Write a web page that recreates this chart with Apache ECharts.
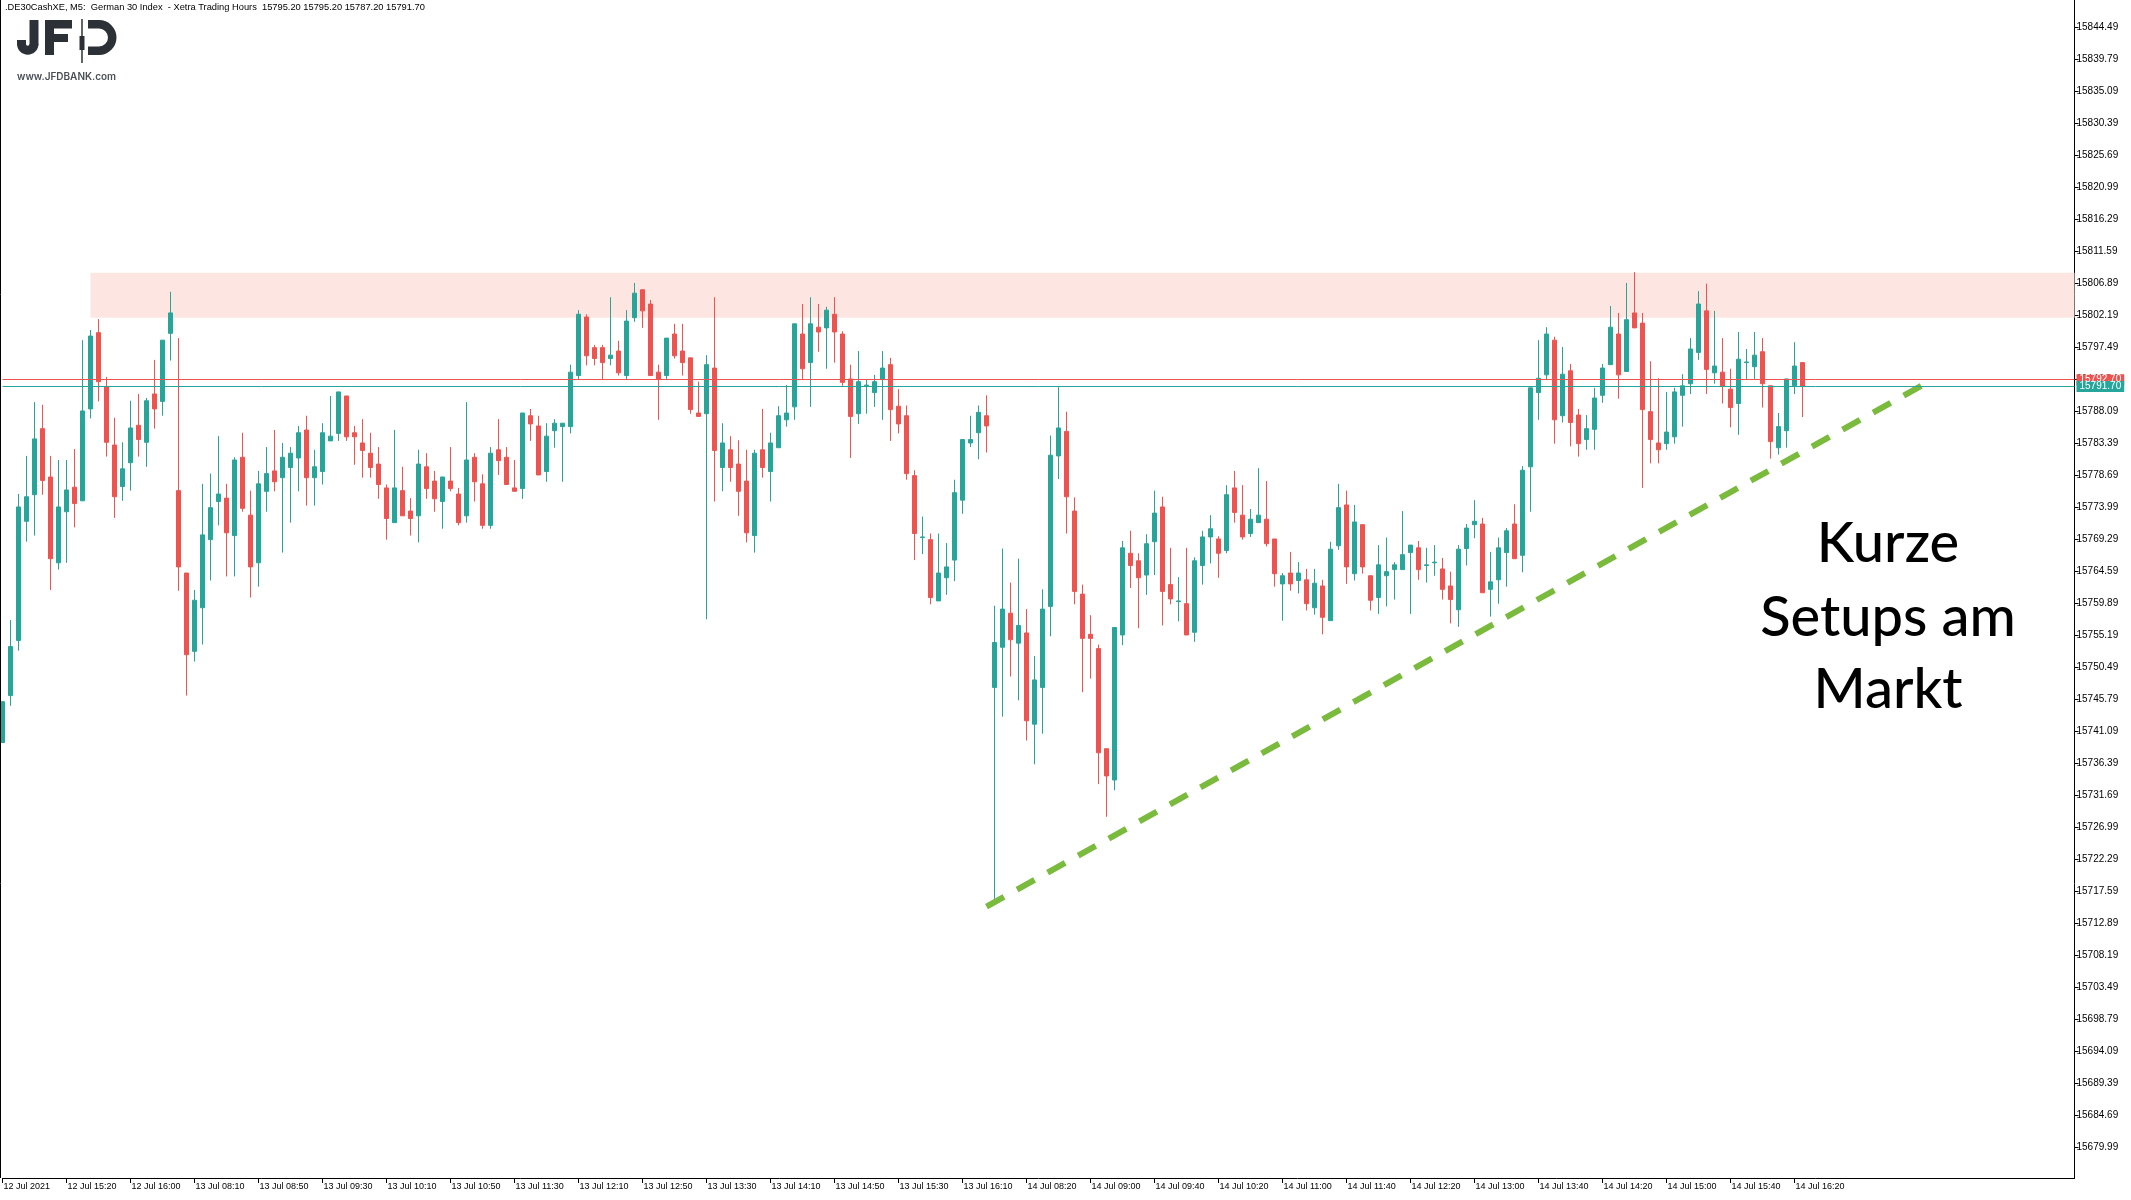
<!DOCTYPE html>
<html><head><meta charset="utf-8">
<script src="https://cdn.jsdelivr.net/npm/echarts@6/dist/echarts.min.js"></script>
<style>html,body{margin:0;padding:0;background:#fff;}#c{width:2131px;height:1200px;}</style>
</head><body><div id="c"></div>
<script>
// ---- DATA (M5 candles, 12 Jul 14:40 -> 14 Jul 16:25) ----
const opens = [15739.4,15746.3,15754.4,15771.9,15775.8,15785.5,15778.4,15765.8,15773.3,15776.9,15774.9,15788.4,15799.6,15791.7,15783.1,15777.0,15780.5,15786.0,15783.5,15790.6,15789.5,15799.5,
15776.4,15764.3,15752.8,15759.2,15769.2,15774.8,15775.3,15769.8,15781.3,15772.8,15765.8,15776.3,15779.3,15778.3,15779.8,15781.2,15785.3,15778.3,15779.2,15783.7,15784.8,15790.3,15784.9,15783.4,15781.9,15780.3,15776.8,15771.7,15776.4,15773.4,15772.7,15779.9,15777.8,15774.8,15777.8,15775.9,15772.7,15781.3,15777.4,15771.3,15782.4,15781.3,15776.8,15776.7,15787.4,15785.9,15779.2,15785.2,15785.8,15785.8,15793.3,15801.9,15797.4,15797.4,15795.8,15796.9,15793.3,15801.8,15805.9,15803.8,15793.8,15793.3,15799.4,15796.9,15795.9,15787.8,15787.7,15794.4,15779.8,15782.4,15780.3,15777.8,15769.8,15782.4,15779.2,15782.7,15786.8,15788.7,15799.4,15795.2,15800.4,15800.3,15802.3,15799.4,15792.8,15787.7,15791.8,15790.8,15792.8,15794.9,15788.8,15787.4,15778.6,15769.5,15769.2,15760.2,15763.6,15766.2,15775.0,15783.4,15784.9,15787.4,
15747.5,15753.4,15758.4,15754.0,15755.5,15742.1,15747.5,15759.4,15781.5,15785.1,15773.4,15761.2,15755.3,15753.2,15738.5,15733.9,15755.2,15767.2,15766.1,15764.0,15768.9,15774.0,15762.6,15760.1,15759.8,15755.6,15765.4,15769.6,15769.3,15767.6,15776.8,15772.8,15770.1,15771.7,15772.2,15769.3,15762.7,15764.3,15763.2,15763.3,15759.2,15762.4,15757.3,15768.3,15774.3,15764.2,15771.4,15763.9,15760.7,15763.9,15764.8,15764.8,15767.3,15768.0,15765.4,15765.8,15764.9,15762.4,15758.9,15767.9,15771.4,15771.5,15761.9,15763.3,15767.3,15771.5,15766.9,15779.9,15790.8,15793.4,15798.5,15787.4,15794.0,15787.5,15783.9,15785.4,15790.4,15794.9,15799.4,15793.9,15802.5,15801.0,15788.0,15783.4,15783.3,15784.3,15790.4,15792.1,15796.7,15802.8,15793.7,15793.8,15791.3,15789.2,15795.2,15794.6,15796.8,15791.8,15782.7,15785.2,15791.8,15795.2];
const closes = [15745.4,15753.5,15774.0,15775.5,15784.0,15777.9,15766.4,15774.0,15776.5,15774.5,15788.1,15799.1,15792.4,15783.5,15775.5,15779.6,15785.6,15783.9,15789.6,15788.4,15798.5,15802.5,
15765.2,15752.3,15760.3,15769.9,15773.9,15775.9,15770.2,15780.9,15773.8,15765.2,15777.4,15778.9,15777.7,15781.3,15781.9,15784.9,15778.3,15779.9,15784.9,15784.4,15790.9,15784.3,15784.3,15782.3,15779.8,15777.3,15772.3,15776.8,15772.7,15772.3,15780.3,15776.7,15775.2,15778.4,15776.7,15771.7,15780.9,15777.7,15771.3,15781.9,15780.8,15777.3,15776.3,15787.8,15786.2,15778.7,15784.4,15786.3,15786.3,15793.8,15802.3,15796.2,15795.8,15795.2,15796.3,15793.7,15801.3,15805.4,15802.8,15793.3,15792.8,15798.8,15796.2,15795.2,15788.3,15787.3,15794.9,15782.3,15783.4,15779.8,15776.3,15770.2,15781.9,15779.8,15783.4,15787.4,15787.8,15800.9,15794.3,15800.9,15799.7,15802.9,15799.7,15792.3,15787.3,15792.4,15791.9,15792.4,15794.4,15788.3,15786.2,15778.9,15770.1,15769.6,15760.7,15764.3,15765.2,15776.1,15783.9,15783.9,15787.9,15785.9,
15754.1,15759.0,15754.5,15756.6,15742.6,15748.6,15759.0,15781.6,15785.6,15775.5,15761.6,15754.7,15754.7,15737.9,15734.5,15756.3,15768.0,15765.4,15763.6,15768.6,15773.1,15761.6,15760.5,15760.2,15755.2,15766.1,15769.6,15770.8,15767.2,15775.8,15773.2,15769.6,15772.2,15772.8,15768.6,15764.2,15763.9,15762.7,15764.3,15759.8,15762.8,15757.8,15767.8,15773.9,15765.2,15771.8,15765.2,15760.3,15765.5,15764.5,15765.5,15767.0,15768.4,15764.8,15765.5,15765.9,15761.9,15760.4,15767.8,15770.9,15771.9,15761.4,15763.0,15768.0,15770.5,15766.4,15779.4,15791.5,15792.9,15799.4,15786.8,15793.5,15786.4,15783.3,15785.5,15790.0,15794.4,15800.4,15793.4,15801.5,15800.3,15788.3,15783.9,15782.4,15785.0,15790.9,15791.8,15797.2,15803.8,15794.2,15794.7,15791.7,15788.6,15795.7,15795.3,15796.3,15792.1,15783.6,15785.8,15792.8,15794.7,15791.7];
const lows = [15739.4,15744.8,15752.9,15768.9,15769.8,15775.8,15761.8,15764.8,15765.8,15771.0,15774.9,15787.0,15789.5,15781.4,15772.4,15774.9,15776.4,15781.4,15779.9,15785.5,15787.4,15795.5,
15761.7,15746.3,15751.3,15753.8,15763.2,15771.3,15763.8,15763.8,15773.3,15760.7,15762.3,15773.3,15776.3,15767.3,15771.7,15776.3,15774.2,15774.2,15777.3,15783.7,15783.7,15783.7,15780.2,15778.3,15778.3,15775.2,15769.2,15771.7,15772.7,15769.8,15768.8,15775.2,15773.3,15770.8,15776.3,15771.3,15771.7,15774.8,15770.8,15770.8,15778.7,15777.3,15776.3,15775.2,15783.7,15778.7,15777.7,15782.7,15777.7,15784.8,15792.8,15794.8,15794.8,15792.8,15794.8,15793.3,15792.8,15801.2,15800.3,15793.3,15786.8,15792.8,15795.8,15793.3,15787.7,15787.3,15757.5,15774.8,15776.3,15777.7,15772.7,15768.8,15767.3,15778.3,15774.8,15782.7,15785.8,15786.8,15792.8,15788.7,15796.8,15794.3,15795.2,15791.8,15781.2,15786.2,15787.7,15788.7,15786.8,15783.7,15784.8,15778.0,15766.2,15767.1,15759.7,15760.2,15761.1,15763.1,15773.0,15782.8,15781.0,15782.0,
15716.3,15743.2,15749.1,15745.6,15739.7,15736.2,15740.7,15755.0,15778.1,15770.1,15759.7,15746.8,15748.8,15733.3,15728.5,15732.4,15753.7,15762.1,15756.2,15761.1,15764.0,15756.6,15759.7,15757.2,15755.2,15754.2,15762.6,15765.7,15763.6,15767.2,15771.7,15769.2,15769.6,15771.7,15768.2,15762.3,15757.3,15761.7,15761.3,15758.8,15758.2,15755.3,15757.3,15767.7,15762.7,15763.2,15764.2,15758.8,15758.3,15759.4,15760.4,15764.8,15758.3,15763.3,15762.9,15763.9,15760.4,15756.9,15756.4,15765.4,15769.4,15761.4,15757.9,15759.8,15762.3,15766.4,15764.4,15773.3,15786.8,15792.7,15783.3,15786.4,15782.9,15781.4,15782.4,15782.4,15789.3,15794.9,15789.9,15793.9,15800.3,15776.8,15780.4,15780.4,15782.4,15783.3,15785.8,15790.6,15795.6,15790.6,15792.1,15789.2,15785.7,15784.6,15792.8,15792.8,15788.6,15781.1,15781.7,15782.7,15790.6,15787.2];
const highs = [15745.4,15757.4,15775.9,15781.5,15789.4,15789.0,15781.5,15780.9,15780.9,15782.5,15798.5,15800.0,15801.6,15793.1,15787.1,15783.5,15789.6,15790.6,15790.0,15795.6,15798.5,15805.6,
15798.8,15764.3,15761.8,15777.4,15778.9,15784.4,15777.4,15781.3,15784.9,15776.4,15779.3,15782.8,15785.3,15783.4,15782.8,15785.9,15787.4,15782.4,15786.3,15790.3,15790.9,15790.3,15785.9,15786.9,15784.9,15782.8,15777.3,15785.3,15779.9,15775.3,15782.4,15781.9,15779.3,15778.4,15782.8,15776.8,15789.4,15781.9,15778.8,15782.8,15786.9,15782.8,15780.9,15787.8,15788.4,15787.4,15786.3,15786.9,15786.3,15794.9,15802.9,15802.3,15797.8,15797.8,15804.8,15798.4,15802.9,15806.9,15805.9,15804.4,15794.9,15798.8,15800.9,15800.9,15795.9,15792.4,15796.3,15804.8,15786.3,15784.4,15783.8,15782.4,15782.4,15788.4,15784.9,15788.8,15791.9,15800.9,15803.8,15804.8,15803.8,15803.4,15804.8,15799.8,15794.9,15796.9,15792.8,15793.4,15796.9,15795.9,15791.3,15788.9,15779.4,15772.6,15770.1,15770.1,15768.7,15778.0,15783.9,15787.4,15788.9,15790.4,
15759.5,15767.9,15762.9,15766.4,15759.0,15752.1,15761.9,15784.5,15791.6,15788.0,15775.4,15762.6,15758.1,15753.8,15738.5,15756.3,15769.0,15770.5,15767.2,15770.0,15776.4,15775.5,15768.0,15763.7,15768.0,15766.6,15770.5,15772.8,15769.7,15777.2,15779.3,15777.2,15773.7,15779.7,15777.8,15769.3,15764.3,15767.4,15765.9,15764.9,15764.9,15763.3,15768.9,15777.4,15776.4,15774.3,15771.4,15763.9,15768.4,15769.5,15765.9,15773.4,15768.4,15769.0,15768.0,15768.4,15766.5,15764.5,15768.4,15771.5,15775.0,15772.4,15767.4,15769.5,15770.9,15774.4,15780.0,15791.5,15798.5,15800.4,15799.0,15797.5,15795.0,15788.4,15787.5,15791.5,15795.0,15803.5,15802.5,15806.9,15808.5,15802.5,15795.4,15792.9,15790.9,15791.5,15793.5,15798.8,15805.7,15806.8,15802.8,15798.8,15794.3,15799.7,15797.2,15799.7,15798.8,15791.8,15787.8,15792.8,15798.2,15795.2];

const sessions = [['12 Jul', 14*60+40, 16*60+25], ['13 Jul', 8*60, 16*60+25], ['14 Jul', 8*60, 16*60+25]];
const xTickLabels = ['12 Jul 2021','12 Jul 15:20','12 Jul 16:00','13 Jul 08:10','13 Jul 08:50','13 Jul 09:30','13 Jul 10:10','13 Jul 10:50','13 Jul 11:30','13 Jul 12:10','13 Jul 12:50','13 Jul 13:30','13 Jul 14:10','13 Jul 14:50','13 Jul 15:30','13 Jul 16:10','14 Jul 08:20','14 Jul 09:00','14 Jul 09:40','14 Jul 10:20','14 Jul 11:00','14 Jul 11:40','14 Jul 12:20','14 Jul 13:00','14 Jul 13:40','14 Jul 14:20','14 Jul 15:00','14 Jul 15:40','14 Jul 16:20'];
const yTickValues = [15679.99,15684.69,15689.39,15694.09,15698.79,15703.49,15708.19,15712.89,15717.59,15722.29,15726.99,15731.69,15736.39,15741.09,15745.79,15750.49,15755.19,15759.89,15764.59,15769.29,15773.99,15778.69,15783.39,15788.09,15792.79,15797.49,15802.19,15806.89,15811.59,15816.29,15820.99,15825.69,15830.39,15835.09,15839.79,15844.49];
const resistanceZone = [15801.8, 15808.4];   // price band
const zoneStartBar = 11;
const trendLine = [[123, 15715.3], [240, 15791.9]]; // [bar index, price]
const askPrice = 15792.70;
const bidPrice = 15791.70;
const headerText = '.DE30CashXE, M5:  German 30 Index  - Xetra Trading Hours  15795.20 15795.20 15787.20 15791.70';
const noteLines = ['Kurze', 'Setups am', 'Markt'];

// ---- build categories ----
const categories = [];
sessions.forEach(([d, s, e]) => {
  for (let m = s; m <= e; m += 5) {
    const hh = String(Math.floor(m / 60)).padStart(2, '0'), mm = String(m % 60).padStart(2, '0');
    categories.push(d + ' ' + hh + ':' + mm);
  }
});
const TOTAL = 260;
while (categories.length < TOTAL) categories.push('future ' + categories.length);
const candles = opens.map((o, i) => [o, closes[i], lows[i], highs[i]]);

const GREEN = '#26a69a', RED = '#ef5350';
const axisFont = 'Liberation Sans';
const LOGO = '#2c3138';
const showTick = (i) => i % 8 === 0 && i / 8 < xTickLabels.length;

const chart = echarts.init(document.getElementById('c'), null, {renderer: 'canvas', width: 2131, height: 1200});
chart.setOption({
  animation: false,
  backgroundColor: '#ffffff',
  grid: {left: 2.5, right: 56.5, top: 0, bottom: 22, containLabel: false},
  xAxis: {
    type: 'category', data: categories, boundaryGap: false,
    axisLine: {show: true, onZero: false, lineStyle: {color: '#000', width: 1}},
    axisTick: {show: true, length: 5, interval: showTick, lineStyle: {color: '#000'}},
    axisLabel: {interval: showTick, formatter: (v, i) => xTickLabels[i / 8] || '', align: 'left', margin: 4,
      padding: [0, 0, 0, 1], fontFamily: axisFont, fontSize: 9, color: '#000'},
    splitLine: {show: false}
  },
  yAxis: {
    type: 'value', position: 'right', min: 15675.45, max: 15848.455,
    axisLine: {show: true, lineStyle: {color: '#000', width: 1}},
    axisTick: {show: true, length: 4, customValues: yTickValues, lineStyle: {color: '#000'}},
    axisLabel: {customValues: yTickValues, formatter: v => v.toFixed(2), margin: 2, fontFamily: axisFont, fontSize: 10, color: '#000'},
    splitLine: {show: false}
  },
  series: [
    {
      type: 'line', data: [], z: 1, silent: true,
      markArea: {silent: true, itemStyle: {color: '#fde6e2'},
        data: [[{xAxis: zoneStartBar, yAxis: resistanceZone[0]}, {xAxis: TOTAL - 1, yAxis: resistanceZone[1]}]]}
    },
    {
      type: 'candlestick', data: candles, z: 3, barWidth: 4,
      itemStyle: {color: GREEN, color0: RED, borderColor: GREEN, borderColor0: RED, borderWidth: 1},
      markLine: {
        silent: true, symbol: ['none', 'none'], animation: false,
        data: [
          [{coord: [trendLine[0][0], trendLine[0][1]], lineStyle: {color: '#7aba3c', width: 6, type: [20, 15], cap: 'butt'}, label: {show: false}},
           {coord: [trendLine[1][0], trendLine[1][1]]}],
          {yAxis: askPrice, lineStyle: {color: RED, width: 1, type: 'solid'},
            label: {show: true, position: 'end', distance: 2, formatter: askPrice.toFixed(2), backgroundColor: RED, color: '#fff',
              fontFamily: axisFont, fontSize: 10, padding: [1, 3, 0, 3]}},
          {yAxis: bidPrice, lineStyle: {color: GREEN, width: 1, type: 'solid'},
            label: {show: true, position: 'end', distance: 2, formatter: bidPrice.toFixed(2), backgroundColor: GREEN, color: '#fff',
              fontFamily: axisFont, fontSize: 10, padding: [1, 3, 0, 3]}}
        ]
      }
    }
  ],
  graphic: [
    {type: 'line', shape: {x1: 0.5, y1: 0, x2: 0.5, y2: 1178}, style: {stroke: '#000', lineWidth: 1}, z: 10},
    {type: 'text', x: 5, y: 3, style: {text: headerText, font: '9.3px "Liberation Sans"', fill: '#000'}, z: 10},
    // logo: J
    {type: 'rect', shape: {x: 29.5, y: 20, width: 9, height: 25}, style: {fill: LOGO}, z: 10},
    {type: 'sector', shape: {cx: 27.75, cy: 44, r: 10.75, r0: 1.75, startAngle: 0, endAngle: Math.PI, clockwise: true}, style: {fill: LOGO}, z: 10},
    {type: 'rect', shape: {x: 17, y: 40, width: 9, height: 4.5}, style: {fill: LOGO}, z: 10},
    // F
    {type: 'rect', shape: {x: 45, y: 20, width: 9, height: 35}, style: {fill: LOGO}, z: 10},
    {type: 'rect', shape: {x: 45, y: 20, width: 27, height: 8.5}, style: {fill: LOGO}, z: 10},
    {type: 'rect', shape: {x: 45, y: 34, width: 23, height: 8}, style: {fill: LOGO}, z: 10},
    // candle
    {type: 'line', shape: {x1: 82, y1: 19, x2: 82, y2: 63}, style: {stroke: LOGO, lineWidth: 1.5}, z: 10},
    {type: 'rect', shape: {x: 79.5, y: 36, width: 5, height: 14}, style: {fill: LOGO}, z: 10},
    // D
    {type: 'rect', shape: {x: 88, y: 20, width: 11, height: 8.5}, style: {fill: LOGO}, z: 10},
    {type: 'rect', shape: {x: 88, y: 46.5, width: 11, height: 8.5}, style: {fill: LOGO}, z: 10},
    {type: 'sector', shape: {cx: 99, cy: 37.5, r: 17.5, r0: 9, startAngle: -Math.PI / 2, endAngle: Math.PI / 2, clockwise: true}, style: {fill: LOGO}, z: 10},
    {type: 'text', x: 17, y: 77, style: {text: 'www.JFDBANK.com', font: '600 10px Inter', fill: '#4a4f55', textVerticalAlign: 'middle'}, z: 10},
    // note
    {type: 'text', x: 1888, y: 544, style: {text: noteLines[0], font: '500 56px Lato', fill: '#000', textAlign: 'center', textVerticalAlign: 'middle'}, z: 10},
    {type: 'text', x: 1888, y: 618, style: {text: noteLines[1], font: '500 56px Lato', fill: '#000', textAlign: 'center', textVerticalAlign: 'middle'}, z: 10},
    {type: 'text', x: 1888, y: 690, style: {text: noteLines[2], font: '500 56px Lato', fill: '#000', textAlign: 'center', textVerticalAlign: 'middle'}, z: 10}
  ]
});
</script></body></html>
